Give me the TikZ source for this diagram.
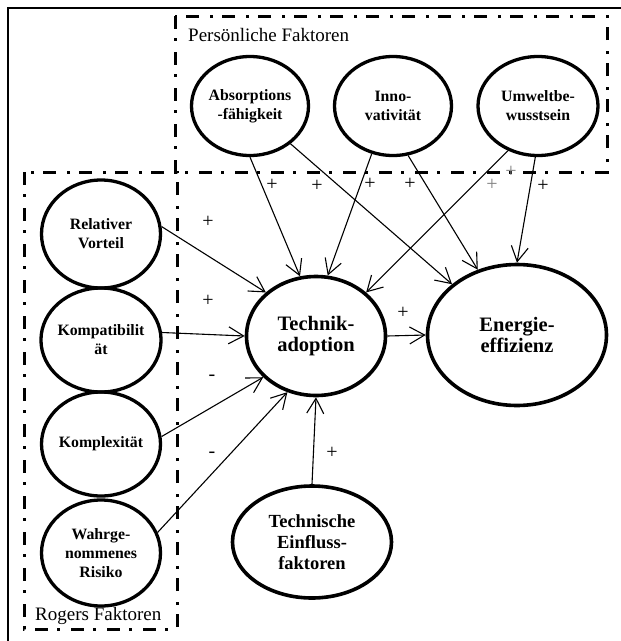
\documentclass[tikz,border=0pt]{standalone}
\usepackage{fontspec}
\setmainfont{Liberation Serif}
\usetikzlibrary{arrows.meta,shapes.geometric}
\begin{document}
\begin{tikzpicture}[x=1pt,y=-1pt,
  dd/.style={line width=3pt, dash pattern=on 13pt off 9pt on 3pt off 11pt},
  fac/.style={ellipse, draw, line width=3.3pt, inner sep=-1pt, align=center, font=\fontsize{15.8}{19}\selectfont\bfseries},
  big/.style={ellipse, draw, line width=3.6pt, inner sep=0pt, align=center, font=\fontsize{20.5}{20.5}\selectfont\bfseries},
  arr/.style={line width=1.1pt, -{Straight Barb[length=15pt,width=17pt,line width=1.1pt]}},
  sign/.style={font=\fontsize{20}{20}\selectfont, inner sep=0pt},
  grp/.style={font=\fontsize{19}{19}\selectfont, inner sep=0pt, anchor=base west}
]
\useasboundingbox (0,0) rectangle (621,641);
\draw[line width=2.5pt] (8,641) -- (8,8) -- (621,8);
\draw[dd] (175,16) rectangle (607,172);
\draw[dd] (24,172) rectangle (177,629);
\node[grp] (pf) at (188,41) {Persönliche Faktoren};
\node[grp] (rf) at (35,620) {Rogers Faktoren};
% persoenliche
\node[fac, minimum width=117pt, minimum height=99pt] (abs) at (250,106) {Absorptions\\-fähigkeit};
\node[fac, minimum width=117pt, minimum height=99pt] (inno) at (393,106) {Inno-\\vativität};
\node[fac, minimum width=120pt, minimum height=99pt] (umw) at (538,106) {Umweltbe-\\wusstsein};
% rogers
\node[fac, minimum width=119pt, minimum height=108pt] (rel) at (101,234) {Relativer\\Vorteil};
\node[fac, minimum width=119pt, minimum height=104pt] (kom) at (101,340) {Kompatibilit\\ät};
\node[fac, minimum width=119pt, minimum height=104pt] (kpx) at (101,444) {Komplexität};
\node[fac, minimum width=119pt, minimum height=106pt] (wah) at (101,553) {Wahrge-\\nommenes\\Risiko};
% main
\node[big, minimum width=139pt, minimum height=119pt] (tech) at (316,336) {Technik-\\adoption};
\node[big, minimum width=179pt, minimum height=141pt] (ene) at (517,335) {Energie-\\effizienz};
\node[big, minimum width=159pt, minimum height=112pt, font=\fontsize{18.5}{21}\selectfont\bfseries] (tef) at (312,542) {Technische\\Einfluss-\\faktoren};
% connectors
\draw[arr] (abs.south) -- (tech.105);
\draw[arr] (abs.-43) -- (ene.142);
\draw[arr] (inno.-114) -- (tech.79);
\draw[arr] (inno.-73) -- (ene.121);
\draw[arr] (umw.-124) -- (tech.41);
\draw[arr] (umw.-93) -- (ene.90);
\draw[arr] (rel.7) -- (tech.139);
\draw[arr] (kom.7) -- (tech.180);
\draw[arr] (kpx.7) -- (tech.218);
\draw[arr] (wah.20) -- (tech.243);
\draw[arr] (tech.east) -- (ene.west);
\draw[arr] (tef.north) -- (tech.south);
% signs
\node[sign] (s1) at (272,185) {+};
\node[sign] (s2) at (317,186) {+};
\node[sign] (s3) at (370,184) {+};
\node[sign] (s4) at (410,184) {+};
\node[sign, text=gray] (s5) at (492,185) {+};
\node[sign, text=gray] (s6) at (511,172) {+};
\node[sign] (s7) at (543,186) {+};
\node[sign] (s8) at (208,222) {+};
\node[sign] (s9) at (208,301) {+};
\node[sign] (s10) at (403,313) {+};
\node[sign] (s11) at (212,378) {-};
\node[sign] (s12) at (212,455) {-};
\node[sign] (s13) at (332,453) {+};
\end{tikzpicture}
\end{document}
